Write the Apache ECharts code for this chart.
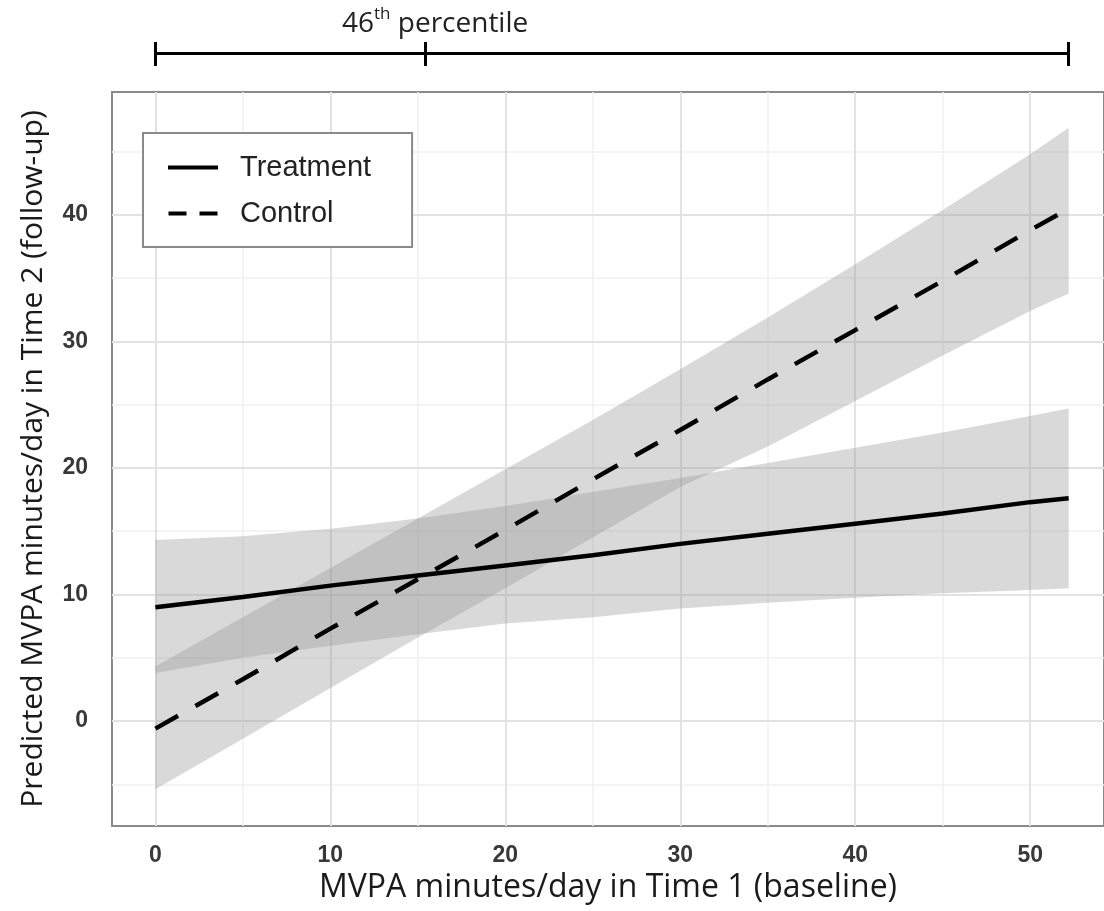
<!DOCTYPE html>
<html>
<head>
<meta charset="utf-8">
<script src="https://cdn.jsdelivr.net/npm/echarts@6/dist/echarts.min.js"></script>
<style>
html,body{margin:0;padding:0;background:#fff;}
#c{width:1104px;height:911px;}
</style>
</head>
<body>
<div id="c"></div>
<script>
// ---- data ----
const xs          = [0, 5, 10, 15, 20, 25, 30, 35, 40, 45, 50, 52.2];
const treatFit    = [9.0, 9.8, 10.7, 11.5, 12.3, 13.1, 14.0, 14.8, 15.6, 16.4, 17.3, 17.6];
const treatLower  = [3.8, 5.0, 5.95, 6.85, 7.7, 8.2, 8.9, 9.35, 9.75, 10.1, 10.35, 10.5];
const treatUpper  = [14.3, 14.6, 15.2, 16.0, 17.0, 18.1, 19.2, 20.4, 21.6, 22.8, 24.1, 24.7];
const ctrlFit     = [-0.6, 3.3, 7.3, 11.2, 15.1, 19.1, 23.0, 27.0, 30.9, 34.8, 38.8, 40.5];
const ctrlLower   = [-5.4, -1.4, 2.6, 6.6, 10.5, 14.5, 18.5, 21.7, 25.3, 28.9, 32.4, 33.8];
const ctrlUpper   = [4.3, 8.2, 12.1, 16.0, 19.9, 23.8, 27.8, 31.9, 36.1, 40.4, 44.8, 46.9];

const xTicks      = [0, 10, 20, 30, 40, 50];
const xMinor      = [5, 15, 25, 35, 45];
const yTicks      = [0, 10, 20, 30, 40];
const yMinor      = [-5, 5, 15, 25, 35, 45];

const bracketStart = 0;
const bracketMid   = 15.4;   // 46th percentile
const bracketEnd   = 52.2;

const X_MIN = -2.48, X_MAX = 54.22, Y_MIN = -8.3, Y_MAX = 49.72;

const chart = echarts.init(document.getElementById('c'));

function bandSeries(name, lo, hi) {
  return {
    type: 'custom', name: name, z: 2, silent: true,
    xAxisIndex: 0, yAxisIndex: 0,
    data: xs.map((x, i) => [x, lo[i], hi[i]]),
    encode: { x: 0, y: [1, 2] },
    renderItem: function (params, api) {
      if (params.dataIndex !== 0) return null;
      const pts = [];
      for (let i = 0; i < xs.length; i++) pts.push(api.coord([xs[i], hi[i]]));
      for (let i = xs.length - 1; i >= 0; i--) pts.push(api.coord([xs[i], lo[i]]));
      return { type: 'polygon', shape: { points: pts }, style: { fill: 'rgba(153,153,153,0.37)' } };
    }
  };
}

const majorStyle = { color: '#e2e2e2', width: 2, type: 'solid' };
const minorStyle = { color: '#f1f1f1', width: 1.5, type: 'solid' };
const gridMarks = []
  .concat(xMinor.map(v => ({ xAxis: v, lineStyle: minorStyle })))
  .concat(yMinor.map(v => ({ yAxis: v, lineStyle: minorStyle })))
  .concat(xTicks.map(v => ({ xAxis: v, lineStyle: majorStyle })))
  .concat(yTicks.map(v => ({ yAxis: v, lineStyle: majorStyle })));

const bracketLines = [
  { coords: [[bracketStart, 0.55], [bracketEnd, 0.55]] },
  { coords: [[bracketStart, 0], [bracketStart, 1]] },
  { coords: [[bracketMid, 0], [bracketMid, 1]] },
  { coords: [[bracketEnd, 0], [bracketEnd, 1]] }
];

const titleFont = 'Open Sans';
const tickFont = { fontSize: 23, fontWeight: 'bold', color: '#383838', fontFamily: 'Liberation Sans' };

chart.setOption({
  animation: false,
  backgroundColor: '#fff',
  title: {
    text: '{a|46}{s|th}{a| percentile}',
    left: 337, top: -3,
    textStyle: {
      fontWeight: 'normal',
      rich: {
        a: { fontFamily: titleFont, fontSize: 28, fontWeight: 'normal', color: '#222', lineHeight: 36, verticalAlign: 'bottom' },
        s: { fontFamily: titleFont, fontSize: 17, fontWeight: 'normal', color: '#222', lineHeight: 36, verticalAlign: 'top', padding: [4, 0, 0, 0] }
      }
    }
  },
  legend: {
    orient: 'vertical', left: 143, top: 133, z: 10,
    data: [
      { name: 'Treatment', icon: 'path://M0,0H50V4H0Z' },
      { name: 'Control', icon: 'path://M0,0H18V4H0ZM31,0H49V4H31Z' }
    ],
    itemWidth: 50, itemHeight: 4, itemGap: 17,
    padding: [20, 41, 19, 25],
    borderColor: '#8a8a8a', borderWidth: 2, backgroundColor: '#fff',
    selectedMode: false,
    textStyle: { fontFamily: 'Liberation Sans', fontSize: 29, color: '#222', padding: [0, 0, 0, 17] }
  },
  grid: [
    { left: 112, width: 994, top: 92, height: 734, show: true, borderColor: '#8a8a8a', borderWidth: 2, backgroundColor: '#fff', containLabel: false },
    { left: 112, width: 994, top: 42, height: 24, show: false }
  ],
  xAxis: [
    {
      type: 'value', gridIndex: 0, min: X_MIN, max: X_MAX,
      axisLine: { show: false },
      axisTick: { show: true, customValues: xTicks, length: 9, lineStyle: { color: '#333', width: 2 } },
      axisLabel: Object.assign({ customValues: xTicks, margin: 18 }, tickFont),
      splitLine: { show: false },
      name: 'MVPA minutes/day in Time 1 (baseline)', nameLocation: 'middle', nameGap: 44,
      nameTextStyle: { fontFamily: titleFont, fontSize: 32, color: '#1a1a1a' }
    },
    { type: 'value', gridIndex: 1, min: X_MIN, max: X_MAX, show: false }
  ],
  yAxis: [
    {
      type: 'value', gridIndex: 0, min: Y_MIN, max: Y_MAX,
      axisLine: { show: false },
      axisTick: { show: true, customValues: yTicks, length: 11, lineStyle: { color: '#333', width: 2 } },
      axisLabel: Object.assign({ customValues: yTicks, margin: 24 }, tickFont),
      splitLine: { show: false },
      name: 'Predicted MVPA minutes/day in Time 2 (follow-up)', nameLocation: 'middle', nameGap: 64,
      nameTextStyle: { fontFamily: titleFont, fontSize: 30, color: '#1a1a1a' }
    },
    { type: 'value', gridIndex: 1, min: 0, max: 1, show: false }
  ],
  series: [
    {
      type: 'line', name: 'gridlines', data: [], z: 1, silent: true,
      xAxisIndex: 0, yAxisIndex: 0,
      markLine: { z: 1, silent: true, symbol: 'none', animation: false, label: { show: false }, data: gridMarks }
    },
    bandSeries('Treatment CI', treatLower, treatUpper),
    bandSeries('Control CI', ctrlLower, ctrlUpper),
    {
      type: 'line', name: 'Treatment', z: 4, symbol: 'none', xAxisIndex: 0, yAxisIndex: 0,
      data: xs.map((x, i) => [x, treatFit[i]]),
      lineStyle: { color: '#000', width: 4.5, type: 'solid' }, itemStyle: { color: '#000' }
    },
    {
      type: 'line', name: 'Control', z: 4, symbol: 'none', xAxisIndex: 0, yAxisIndex: 0,
      data: xs.map((x, i) => [x, ctrlFit[i]]),
      lineStyle: { color: '#000', width: 4.5, type: [26, 20] }, itemStyle: { color: '#000' }
    },
    {
      type: 'lines', coordinateSystem: 'cartesian2d', xAxisIndex: 1, yAxisIndex: 1,
      silent: true, z: 5,
      data: bracketLines,
      lineStyle: { color: '#000', width: 3, opacity: 1, curveness: 0 }
    }
  ]
});
</script>
</body>
</html>
